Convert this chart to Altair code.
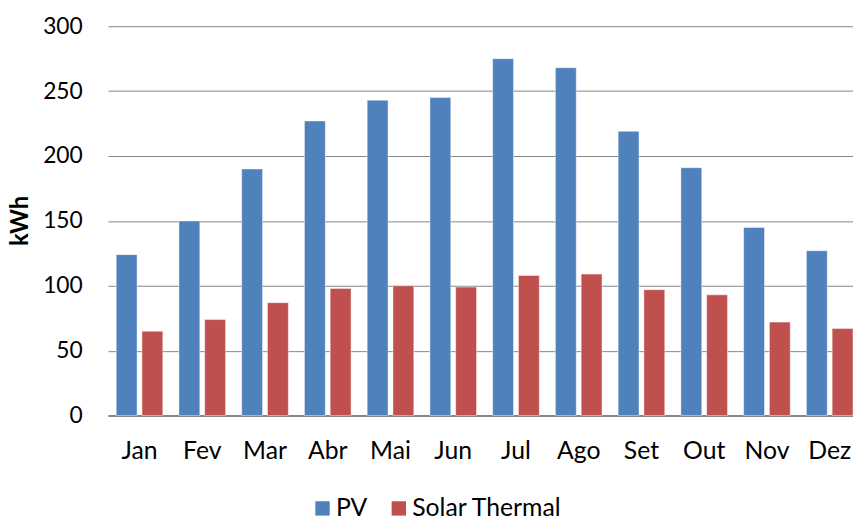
import altair as alt
import pandas as pd

months = ["Jan", "Fev", "Mar", "Abr", "Mai", "Jun", "Jul", "Ago", "Set", "Out", "Nov", "Dez"]
series = ["PV", "Solar Thermal"]
pv = [124, 150, 190, 227, 243, 245, 275, 268, 219, 191, 145, 127]
solar_thermal = [65, 74, 87, 98, 100, 99, 108, 109, 97, 93, 72, 67]
colors = ["#4F81BD", "#C0504D"]
y_ticks = [0, 50, 100, 150, 200, 250, 300]

rows = []
for m, a, b in zip(months, pv, solar_thermal):
    rows.append({"month": m, "series": series[0], "kwh": a})
    rows.append({"month": m, "series": series[1], "kwh": b})
df = pd.DataFrame(rows)

FONT = "Lato"

chart = alt.Chart(df).mark_bar(
    stroke="white", strokeOpacity=0.45, strokeWidth=1
).encode(
    x=alt.X(
        "month:N", sort=months,
        scale=alt.Scale(paddingInner=0.257, paddingOuter=0.065, align=1),
        axis=alt.Axis(title=None, labelAngle=0, ticks=False, domain=True,
                      domainColor="#868686", domainWidth=2,
                      labelFontSize=25, labelColor="black", labelFont=FONT,
                      labelPadding=23),
    ),
    xOffset=alt.XOffset("series:N", sort=series,
                        scale=alt.Scale(paddingInner=0.19, paddingOuter=0)),
    y=alt.Y(
        "kwh:Q", scale=alt.Scale(domain=[0, 300]),
        axis=alt.Axis(title="kWh", values=y_ticks, grid=True, gridColor="#868686",
                      gridWidth=1, domain=False, ticks=False,
                      labelFontSize=23, labelColor="black", labelFont=FONT,
                      labelPadding=26, titleFontSize=24, titleFont=FONT,
                      titleFontWeight="bold", titleColor="black",
                      titleX=-81, titleY=196, titleBaseline="alphabetic",
                      titleAlign="center", titleAngle=270),
    ),
    color=alt.Color(
        "series:N", sort=series,
        scale=alt.Scale(domain=series, range=colors),
        legend=alt.Legend(orient="none", legendX=204, legendY=474, title=None,
                          direction="horizontal",
                          symbolType="square", symbolSize=210, symbolStrokeWidth=0,
                          labelFontSize=25, labelFont=FONT, labelColor="black",
                          labelOffset=1, columnPadding=19, padding=0),
    ),
).properties(
    width=752, height=393,
    padding={"left": 101, "top": 16, "right": 0, "bottom": 100},
    autosize=alt.AutoSizeParams(type="none"),
).configure_view(stroke=None)

chart.save("out.html", embed_options={"renderer": "svg", "actions": False})
